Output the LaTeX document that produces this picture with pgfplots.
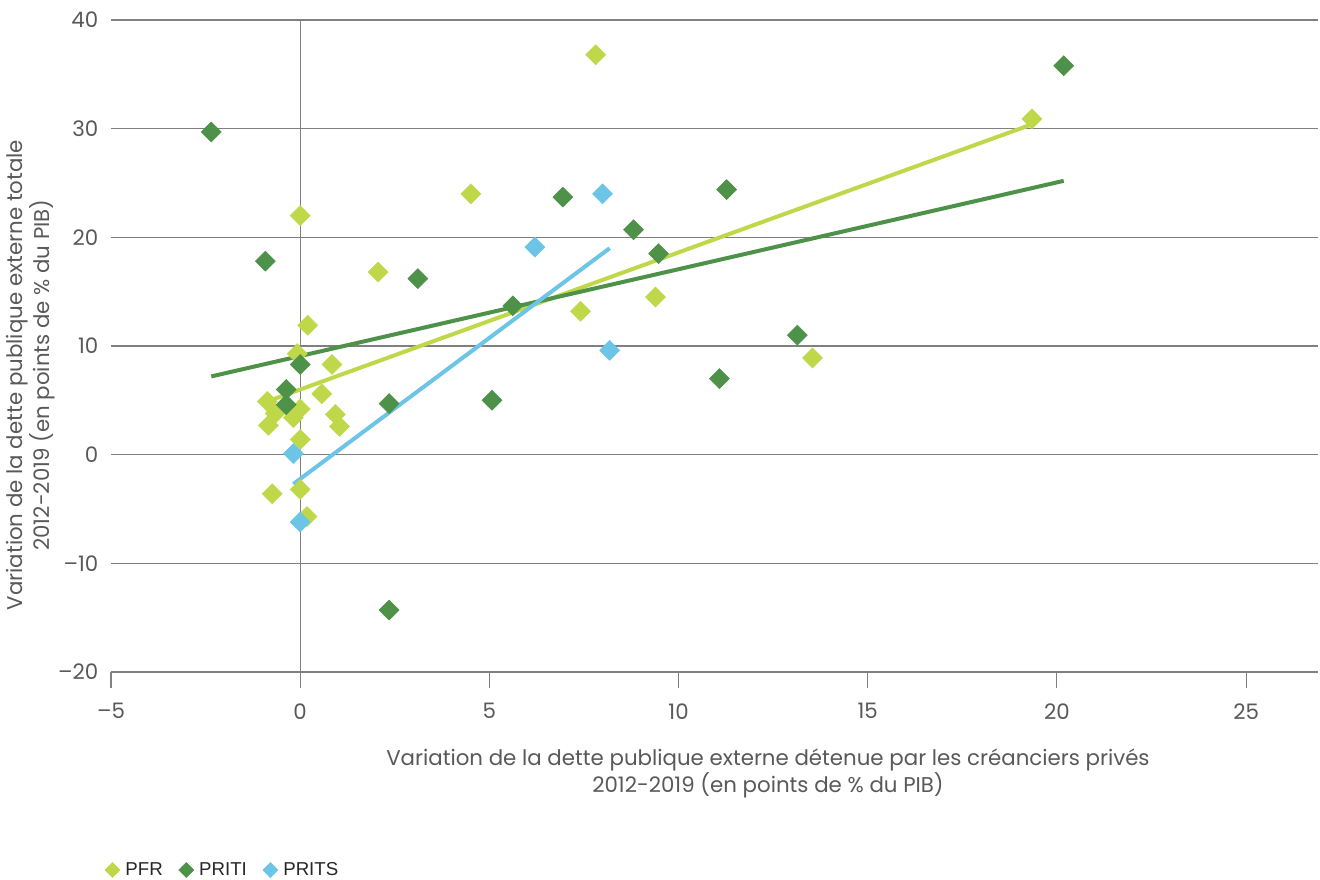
\documentclass[border=0pt]{standalone}
\usepackage{fontspec}
\setmainfont{Poppins}
\newfontfamily\legfont{Liberation Sans}
\usepackage{pgfplots}
\pgfplotsset{compat=1.18}
\definecolor{pfr}{HTML}{BED84A}
\definecolor{priti}{HTML}{4E9148}
\definecolor{prits}{HTML}{6CC5E6}
\definecolor{txt}{HTML}{595959}
\definecolor{gridc}{HTML}{808080}
\begin{document}
\begin{tikzpicture}
\path[use as bounding box] (-83.25pt,-156pt) rectangle (906.75pt,504pt);
\begin{axis}[
  at={(0,0)}, anchor=south west,
  scale only axis, width=905.25pt, height=489pt,
  xmin=-5, xmax=26.9, ymin=-20, ymax=40,
  axis x line*=bottom, axis y line*=left,
  y axis line style={draw=none},
  x axis line style={gridc, line width=0.8pt},
  xtick={-5,0,5,10,15,20,25},
  xticklabels={–5,0,5,10,15,20,25},
  ytick={-20,-10,0,10,20,30,40},
  yticklabels={–20,–10,0,10,20,30,40},
  ymajorgrids, major grid style={gridc, line width=0.8pt},
  xtick style={gridc, line width=0.8pt},
  ytick style={draw=none},
  tick align=outside, major tick length=12pt,
  tick label style={font=\fontsize{16}{18}\selectfont, text=txt},
  xticklabel style={yshift=-8pt},
  yticklabel style={xshift=6pt},
  clip=false,
  legend columns=3,
  legend cell align=left,
  legend style={draw=none, fill=none, at={(rel axis cs:-0.0085,-0.3037)}, anchor=west,
    font=\legfont\fontsize{14}{17}\selectfont, text=black!85,
    /tikz/every even column/.append style={column sep=10pt},
    /tikz/every odd column/.append style={column sep=2pt}},
  legend image code/.code={\draw[#1, mark size=4pt] plot coordinates {(0,0)};},
]
\draw[gridc, line width=0.8pt] (axis cs:0,-20) -- (axis cs:0,40);

\addplot[only marks, mark=square*, mark size=5.3pt, mark options={rotate=45, draw=pfr, fill=pfr}] coordinates {
(7.81,36.8) (19.34,30.9) (0,22.0) (4.51,24.0) (2.06,16.8) (0.2,11.9) (7.41,13.2)
(9.39,14.5) (13.54,8.9) (0.84,8.3) (-0.08,9.3) (0.57,5.6) (-0.87,4.9) (-0.66,3.8)
(-0.84,2.7) (-0.18,3.4) (0,4.2) (0.93,3.7) (1.04,2.6) (0,1.4) (-0.74,-3.6) (0,-3.2) (0.18,-5.7)
};
\addlegendentry{PFR}
\addplot[only marks, mark=square*, mark size=5.3pt, mark options={rotate=45, draw=priti, fill=priti}] coordinates {
(-2.35,29.7) (20.18,35.8) (-0.92,17.8) (3.11,16.2) (6.94,23.7) (8.81,20.7) (11.27,24.4)
(9.47,18.5) (5.62,13.7) (13.14,11.0) (11.08,7.0) (5.07,5.0) (2.35,4.7) (2.35,-14.3)
(0,8.3) (-0.37,6.0) (-0.37,4.6)
};
\addlegendentry{PRITI}
\addplot[only marks, mark=square*, mark size=5.3pt, mark options={rotate=45, draw=prits, fill=prits}] coordinates {
(7.99,24.0) (6.2,19.1) (8.18,9.6) (-0.18,0.1) (0,-6.2)
};
\addlegendentry{PRITS}

\addplot[forget plot, no marks, pfr, line width=3pt] coordinates {(-0.87,4.9) (19.34,30.4)};
\addplot[forget plot, no marks, priti, line width=3pt] coordinates {(-2.35,7.2) (20.18,25.2)};
\addplot[forget plot, no marks, prits, line width=3pt] coordinates {(-0.18,-2.7) (8.18,19.0)};

\node[rotate=90, align=center, text=txt, font=\fontsize{16}{17}\selectfont] at (rel axis cs:-0.0665,0.4555)
 {Variation de la dette publique externe totale\\2012-2019 (en points de \% du PIB)};
\node[align=center, text=txt, font=\fontsize{16}{19}\selectfont] at (rel axis cs:0.5443,-0.156)
 {Variation de la dette publique externe détenue par les créanciers privés\\2012-2019 (en points de \% du PIB)};
\end{axis}
\end{tikzpicture}
\end{document}
